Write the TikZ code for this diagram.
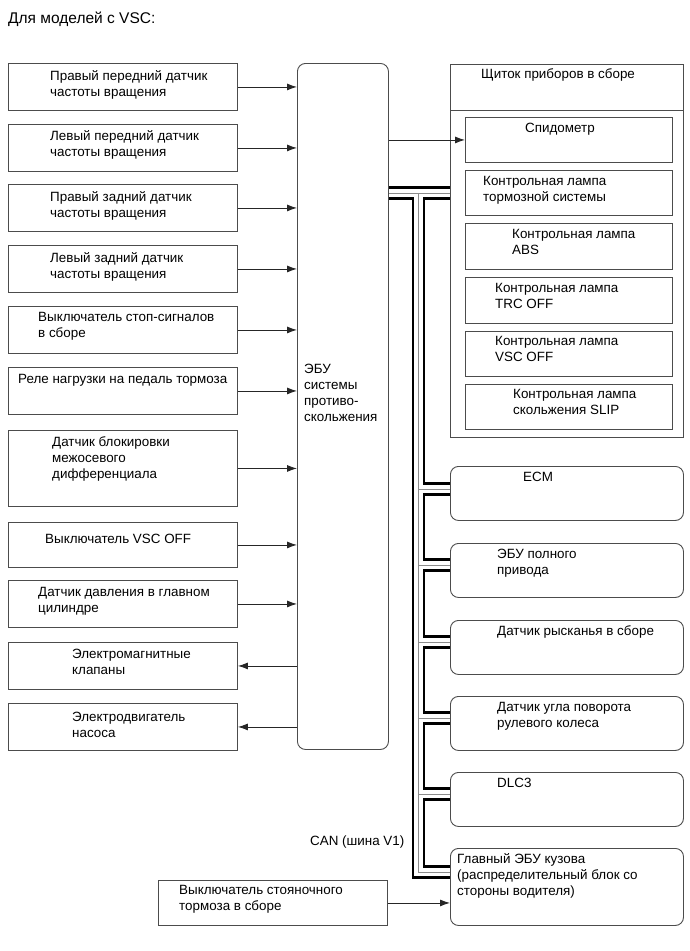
\documentclass[tikz,border=0pt]{standalone}
\usepackage{fontspec}
\setmainfont{Liberation Sans}
\usetikzlibrary{arrows.meta}
\newcommand\mltext[1]{\begin{tabular}[t]{@{}l@{}}#1\end{tabular}}
\begin{document}
\begin{tikzpicture}[x=1pt,y=-1pt,
  bx/.style={draw=black!70, line width=0.9pt, rectangle, inner sep=0pt, anchor=north west},
  rbx/.style={bx, rounded corners=8pt},
  txt/.style={anchor=base west, inner sep=0pt, font=\fontsize{13.4}{16}\selectfont},
  arr/.style={draw=black!85, line width=0.9pt, -{Latex[length=10pt,width=7pt]}},
]
\useasboundingbox (0,0) rectangle (689,951);
\node[txt, font=\fontsize{15.5}{18}\selectfont] (title) at (8,23) {Для моделей с VSC:};

% bus
\def\buspath{(388,193) -- (450,193)
  (418.5,193) -- (418.5,872) -- (450,872)
  (418.5,489) -- (450,489)
  (418.5,565) -- (450,565)
  (418.5,642) -- (450,642)
  (418.5,718) -- (450,718)
  (418.5,794) -- (450,794)}
\draw[line width=13.5pt, black] \buspath;
\draw[line width=8.5pt, white] \buspath;
\draw[line width=0.8pt, black!45] \buspath;

% left boxes
\node[bx, minimum width=229pt, minimum height=47pt] (l1) at (8,63) {};
\node[bx, minimum width=229pt, minimum height=47pt] (l2) at (8,124) {};
\node[bx, minimum width=229pt, minimum height=47pt] (l3) at (8,184) {};
\node[bx, minimum width=229pt, minimum height=47pt] (l4) at (8,245) {};
\node[bx, minimum width=229pt, minimum height=47pt] (l5) at (8,306) {};
\node[bx, minimum width=229pt, minimum height=47pt] (l6) at (8,367) {};
\node[bx, minimum width=229pt, minimum height=76pt] (l7) at (8,430) {};
\node[bx, minimum width=229pt, minimum height=45pt] (l8) at (8,522) {};
\node[bx, minimum width=229pt, minimum height=47pt] (l9) at (8,580) {};
\node[bx, minimum width=229pt, minimum height=47pt] (l10) at (8,642) {};
\node[bx, minimum width=229pt, minimum height=47pt] (l11) at (8,703) {};

\node[txt] (t1) at (50,80) {\mltext{Правый передний датчик\\частоты вращения}};
\node[txt] (t2) at (50,140) {\mltext{Левый передний датчик\\частоты вращения}};
\node[txt] (t3) at (50,201) {\mltext{Правый задний датчик\\частоты вращения}};
\node[txt] (t4) at (50,262) {\mltext{Левый задний датчик\\частоты вращения}};
\node[txt] (t5) at (38,321) {\mltext{Выключатель стоп-сигналов\\в сборе}};
\node[txt] (t6) at (18,383) {Реле нагрузки на педаль тормоза};
\node[txt] (t7) at (52,446) {\mltext{Датчик блокировки\\межосевого\\дифференциала}};
\node[txt] (t8) at (45,543) {Выключатель VSC OFF};
\node[txt] (t9) at (38,596) {\mltext{Датчик давления в главном\\цилиндре}};
\node[txt] (t10) at (72,658) {\mltext{Электромагнитные\\клапаны}};
\node[txt] (t11) at (72,721) {\mltext{Электродвигатель\\насоса}};

% ECU
\node[rbx, minimum width=91pt, minimum height=686pt] (ecu) at (297,63) {};
\node[txt] (tecu) at (304,373) {\mltext{ЭБУ\\системы\\противо-\\скольжения}};

% arrows in
\foreach \i in {1,...,9} {\draw[arr] (l\i.east) -- (ecu.west |- l\i.east);}
\foreach \i in {10,11} {\draw[arr] (ecu.west |- l\i.east) -- (l\i.east);}

% instrument cluster
\node[bx, minimum width=233pt, minimum height=373pt] (cl) at (450,64) {};
\draw[draw=black!70, line width=0.9pt] (cl.west |- 0,110) -- (cl.east |- 0,110);
\node[txt] (tcl) at (481,78) {Щиток приборов в сборе};
\node[bx, minimum width=207pt, minimum height=45pt] (spd) at (465,117) {};
\node[bx, minimum width=207pt, minimum height=45pt] (lp1) at (465,170) {};
\node[bx, minimum width=207pt, minimum height=46pt] (lp2) at (465,223) {};
\node[bx, minimum width=207pt, minimum height=46pt] (lp3) at (465,277) {};
\node[bx, minimum width=207pt, minimum height=45pt] (lp4) at (465,331) {};
\node[bx, minimum width=207pt, minimum height=45pt] (lp5) at (465,384) {};
\node[txt] (tspd) at (525,132) {Спидометр};
\node[txt] (tlp1) at (483,185) {\mltext{Контрольная лампа\\тормозной системы}};
\node[txt] (tlp2) at (512,238) {\mltext{Контрольная лампа\\ABS}};
\node[txt] (tlp3) at (495,292) {\mltext{Контрольная лампа\\TRC OFF}};
\node[txt] (tlp4) at (495,345) {\mltext{Контрольная лампа\\VSC OFF}};
\node[txt] (tlp5) at (513,398) {\mltext{Контрольная лампа\\скольжения SLIP}};
\draw[arr] (ecu.east |- spd.west) -- (spd.west);

% right rounded boxes
\node[rbx, minimum width=233pt, minimum height=54pt] (ecm) at (450,466) {};
\node[rbx, minimum width=233pt, minimum height=54pt] (awd) at (450,543) {};
\node[rbx, minimum width=233pt, minimum height=54pt] (yaw) at (450,620) {};
\node[rbx, minimum width=233pt, minimum height=54pt] (str) at (450,696) {};
\node[rbx, minimum width=233pt, minimum height=54pt] (dlc) at (450,772) {};
\node[rbx, minimum width=233pt, minimum height=77pt] (main) at (450,848) {};
\node[txt] (tecm) at (523,481) {ECM};
\node[txt] (tawd) at (497,558) {\mltext{ЭБУ полного\\привода}};
\node[txt] (tyaw) at (497,635) {Датчик рысканья в сборе};
\node[txt] (tstr) at (497,711) {\mltext{Датчик угла поворота\\рулевого колеса}};
\node[txt] (tdlc) at (497,787) {DLC3};
\node[txt] (tmain) at (457,863) {\mltext{Главный ЭБУ кузова\\(распределительный блок со\\стороны водителя)}};

% parking brake
\node[bx, minimum width=229pt, minimum height=45pt] (park) at (158,880) {};
\node[txt] (tpark) at (179,894) {\mltext{Выключатель стояночного\\тормоза в сборе}};
\draw[arr] (park.east) -- (main.west |- park.east);

\node[txt] (tcan) at (310,845) {CAN (шина V1)};
\end{tikzpicture}
\end{document}
